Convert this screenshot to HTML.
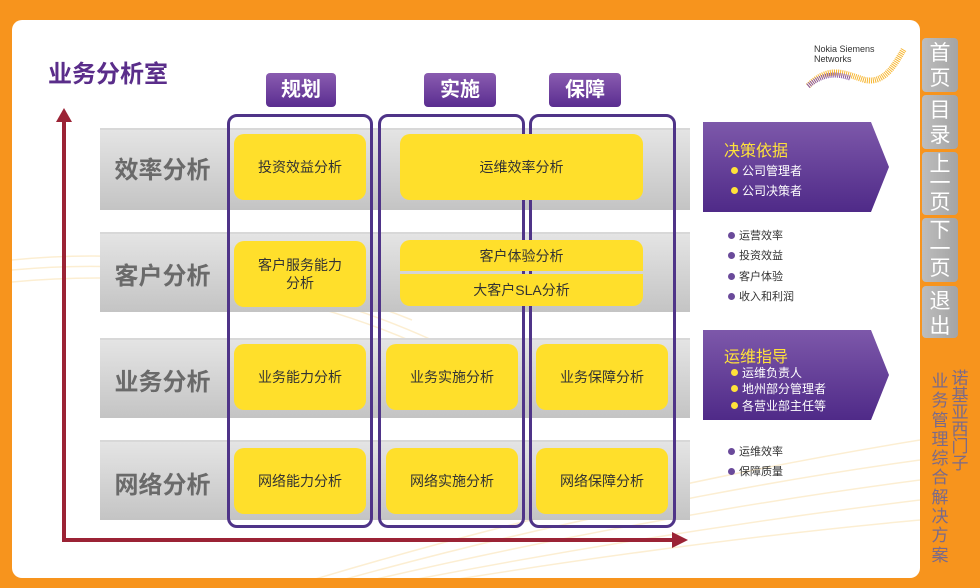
<!DOCTYPE html>
<html><head><meta charset="utf-8"><style>
*{margin:0;padding:0;box-sizing:border-box}
body{width:980px;height:588px;background:#f7941d;position:relative;overflow:hidden;font-family:"Liberation Sans","Noto Sans CJK SC",sans-serif}
.a{position:absolute}
.panel{left:12px;top:20px;width:908px;height:558px;background:#fff;border-radius:10px;overflow:hidden}
.bar{position:absolute;left:100px;width:590px;background:linear-gradient(#e4e4e4,#c4c4c4);border-top:2px solid #d8d8d8}
.lbl{position:absolute;left:100px;width:125px;text-align:center;font-size:24px;font-weight:bold;color:#6a6a6a}
.col{position:absolute;border:3px solid #4f3488;border-radius:10px}
.tab{position:absolute;height:34px;background:linear-gradient(#8a5cb0,#5a2d90);color:#fff;font-size:20px;font-weight:bold;text-align:center;line-height:34px;border-radius:4px}
.y{position:absolute;background:#ffdf2b;border-radius:10px;color:#333;font-size:14px;display:flex;align-items:center;justify-content:center;text-align:center;line-height:18px}
.pa{position:absolute;left:703px;width:186px;height:90px;background:linear-gradient(#7d58aa,#4f2a88);clip-path:polygon(0 0,168px 0,186px 45px,168px 90px,0 90px)}
.pt{position:absolute;color:#ffe23a;font-size:16px}
.pi{position:absolute;color:#fff;font-size:12px}
.pi:before{content:"";display:inline-block;width:7px;height:7px;border-radius:50%;background:#ffe23a;margin-right:4px;vertical-align:1px}
.li{position:absolute;left:728px;font-size:11px;color:#333}
.li:before{content:"";display:inline-block;width:7px;height:7px;border-radius:50%;background:#6a4a9a;margin-right:4px;vertical-align:0}
.nav{position:absolute;left:922px;width:36px;background:linear-gradient(90deg,#bdbdbd,#a4a4a4);border-radius:4px;color:#fff;font-size:21px;text-align:center;line-height:25px;padding-top:3px}
.vt{position:absolute;width:20px;font-size:17px;color:#7a6a8a;text-align:center}
</style></head><body>
<div class="a panel">
<svg class="a" style="left:0;top:0" width="908" height="558">
<g fill="none" stroke="#fbe8c0" stroke-width="1.5" opacity=".7">
<path d="M0 240 Q200 220 400 300"/><path d="M0 250 Q220 230 420 320"/><path d="M0 262 Q240 240 440 340"/>
<path d="M300 560 Q600 470 908 420"/><path d="M330 560 Q620 480 908 440"/><path d="M360 560 Q640 495 908 460"/>
<path d="M400 560 Q660 510 908 480"/><path d="M440 560 Q690 520 908 500"/>
</g>
</svg>
</div>
<div class="a" style="left:48px;top:54px;font-size:24px;font-weight:bold;color:#5a2d8a">业务分析室</div>
<div class="a" style="left:814px;top:44px;font-size:9px;line-height:10px;color:#333">Nokia Siemens<br>Networks</div>
<svg class="a" style="left:800px;top:44px" width="110" height="45"><path d="M8 42 C30 20 45 30 65 36 C85 40 95 20 104 5" fill="none" stroke="#f7b733" stroke-width="6" stroke-dasharray="1 1"/><path d="M8 42 C25 28 38 30 50 34" fill="none" stroke="#8a5aa0" stroke-width="5" stroke-dasharray="1 1"/></svg>

<svg class="a" style="left:0;top:0" width="700" height="560">
<line x1="64" y1="120" x2="64" y2="540" stroke="#9b2335" stroke-width="4"/>
<polygon points="56,122 64,108 72,122" fill="#9b2335"/>
<line x1="62" y1="540" x2="674" y2="540" stroke="#9b2335" stroke-width="4"/>
<polygon points="672,532 688,540 672,548" fill="#9b2335"/>
</svg>

<div class="bar" style="top:128px;height:82px"></div>
<div class="bar" style="top:232px;height:80px"></div>
<div class="bar" style="top:338px;height:80px"></div>
<div class="bar" style="top:440px;height:80px"></div>
<div class="lbl" style="top:150px">效率分析</div>
<div class="lbl" style="top:256px">客户分析</div>
<div class="lbl" style="top:362px">业务分析</div>
<div class="lbl" style="top:465px">网络分析</div>

<div class="tab" style="left:266px;top:73px;width:70px">规划</div>
<div class="tab" style="left:424px;top:73px;width:72px">实施</div>
<div class="tab" style="left:549px;top:73px;width:72px">保障</div>
<div class="col" style="left:227px;top:114px;width:146px;height:414px"></div>
<div class="col" style="left:378px;top:114px;width:147px;height:414px"></div>
<div class="col" style="left:529px;top:114px;width:147px;height:414px"></div>

<div class="y" style="left:234px;top:134px;width:132px;height:66px">投资效益分析</div>
<div class="y" style="left:400px;top:134px;width:243px;height:66px">运维效率分析</div>
<div class="y" style="left:234px;top:241px;width:132px;height:66px">客户服务能力<br>分析</div>
<div class="y" style="left:400px;top:240px;width:243px;height:31px;border-radius:10px 10px 0 0">客户体验分析</div>
<div class="y" style="left:400px;top:274px;width:243px;height:32px;border-radius:0 0 10px 10px">大客户SLA分析</div>
<div class="y" style="left:234px;top:344px;width:132px;height:66px">业务能力分析</div>
<div class="y" style="left:386px;top:344px;width:132px;height:66px">业务实施分析</div>
<div class="y" style="left:536px;top:344px;width:132px;height:66px">业务保障分析</div>
<div class="y" style="left:234px;top:448px;width:132px;height:66px">网络能力分析</div>
<div class="y" style="left:386px;top:448px;width:132px;height:66px">网络实施分析</div>
<div class="y" style="left:536px;top:448px;width:132px;height:66px">网络保障分析</div>

<div class="pa" style="top:122px"></div>
<div class="pt" style="left:724px;top:137px">决策依据</div>
<div class="pi" style="left:731px;top:162px">公司管理者</div>
<div class="pi" style="left:731px;top:182px">公司决策者</div>
<div class="li" style="top:227px">运营效率</div>
<div class="li" style="top:247px">投资效益</div>
<div class="li" style="top:268px">客户体验</div>
<div class="li" style="top:288px">收入和利润</div>
<div class="pa" style="top:330px"></div>
<div class="pt" style="left:724px;top:343px">运维指导</div>
<div class="pi" style="left:731px;top:364px">运维负责人</div>
<div class="pi" style="left:731px;top:380px">地州部分管理者</div>
<div class="pi" style="left:731px;top:397px">各营业部主任等</div>
<div class="li" style="top:443px">运维效率</div>
<div class="li" style="top:463px">保障质量</div>

<div class="nav" style="top:38px;height:54px">首<br>页</div>
<div class="nav" style="top:95px;height:54px">目<br>录</div>
<div class="nav" style="top:152px;height:63px;line-height:19px">上<br>一<br>页</div>
<div class="nav" style="top:218px;height:64px;line-height:19px">下<br>一<br>页</div>
<div class="nav" style="top:286px;height:52px">退<br>出</div>
<div class="vt" style="left:950px;top:370px;line-height:17px">诺<br>基<br>亚<br>西<br>门<br>子</div>
<div class="vt" style="left:930px;top:372px;line-height:19.3px">业<br>务<br>管<br>理<br>综<br>合<br>解<br>决<br>方<br>案</div>
</body></html>
